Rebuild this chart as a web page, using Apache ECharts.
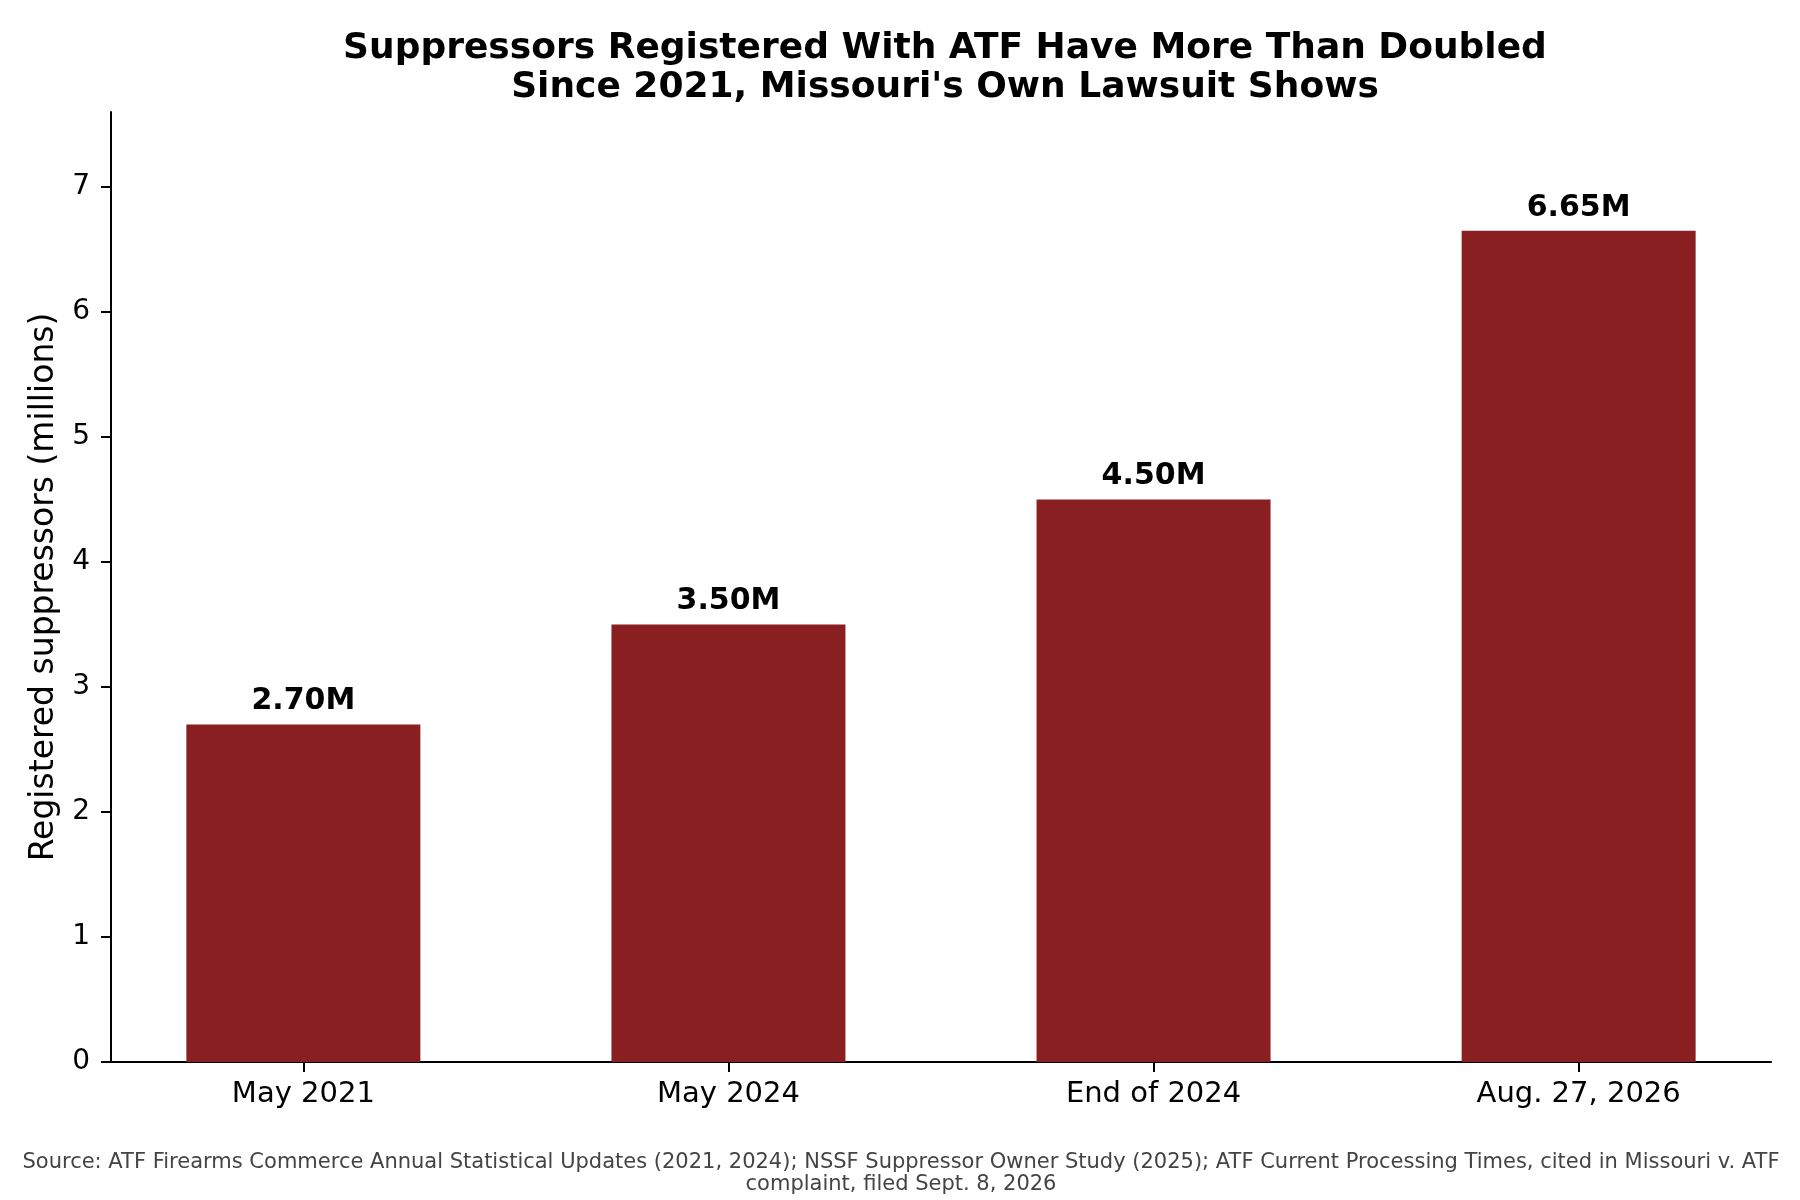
<!DOCTYPE html>
<html>
<head>
<meta charset="utf-8">
<script src="https://cdn.jsdelivr.net/npm/echarts@6/dist/echarts.min.js"></script>
<style>
  html, body { margin: 0; padding: 0; background: #fff; }
  #chart { width: 1800px; height: 1200px; }
</style>
</head>
<body>
<div id="chart"></div>
<script>
// data
var categories = ['May 2021', 'May 2024', 'End of 2024', 'Aug. 27, 2026'];
var values = [2.70, 3.50, 4.50, 6.65];
var valueLabels = ['2.70M', '3.50M', '4.50M', '6.65M'];
var yTicks = [0, 1, 2, 3, 4, 5, 6, 7];

var titleText = 'Suppressors Registered With ATF Have More Than Doubled\nSince 2021, Missouri\'s Own Lawsuit Shows';
var sourceText = 'Source: ATF Firearms Commerce Annual Statistical Updates (2021, 2024); NSSF Suppressor Owner Study (2025); ATF Current Processing Times, cited in Missouri v. ATF\ncomplaint, filed Sept. 8, 2026';

var font = 'DejaVu Sans';
var barColor = '#8a1f21';

var barData = [];
for (var i = 0; i < values.length; i++) {
	barData.push([i, values[i]]);
}

var chart = echarts.init(document.getElementById('chart'), null, {renderer: 'canvas'});
chart.setOption({
	animation: false,
	backgroundColor: '#fff',
	textStyle: {fontFamily: font},
	title: [{
		text: titleText,
		left: 940,
		top: 24,
		textAlign: 'center',
		textStyle: {fontFamily: font, fontSize: 36, fontWeight: 'bold', color: '#000', lineHeight: 39}
	}, {
		text: sourceText,
		left: 896,
		top: 1147,
		textAlign: 'center',
		textStyle: {fontFamily: font, fontSize: 21, fontWeight: 'normal', color: '#444', lineHeight: 22}
	}],
	grid: {left: 111, right: 29, top: 112, bottom: 138, containLabel: false},
	xAxis: {
		type: 'value',
		min: -0.4525,
		max: 3.4525,
		splitLine: {show: false},
		axisLine: {show: true, onZero: false, lineStyle: {color: '#000', width: 2}},
		axisTick: {show: true, customValues: [0, 1, 2, 3], length: 10, lineStyle: {color: '#000', width: 2}},
		axisLabel: {
			customValues: [0, 1, 2, 3],
			margin: 18,
			fontFamily: font,
			fontSize: 29,
			color: '#000',
			formatter: function (v) { return categories[Math.round(v)]; }
		}
	},
	yAxis: {
		type: 'value',
		min: 0,
		max: 7.6,
		name: 'Registered suppressors (millions)',
		nameLocation: 'middle',
		nameGap: 48,
		nameTextStyle: {fontFamily: font, fontSize: 33, color: '#000'},
		splitLine: {show: false},
		axisLine: {show: true, onZero: false, lineStyle: {color: '#000', width: 2}},
		axisTick: {show: true, customValues: yTicks, length: 10, lineStyle: {color: '#000', width: 2}},
		axisLabel: {customValues: yTicks, margin: 21, fontFamily: font, fontSize: 28, color: '#000'}
	},
	series: [{
		type: 'bar',
		data: barData,
		barWidth: 234,
		itemStyle: {color: barColor},
		label: {
			show: true,
			position: 'top',
			distance: 8,
			fontFamily: font,
			fontSize: 30,
			fontWeight: 'bold',
			color: '#000',
			formatter: function (p) { return valueLabels[p.dataIndex]; }
		}
	}]
});
</script>
</body>
</html>
